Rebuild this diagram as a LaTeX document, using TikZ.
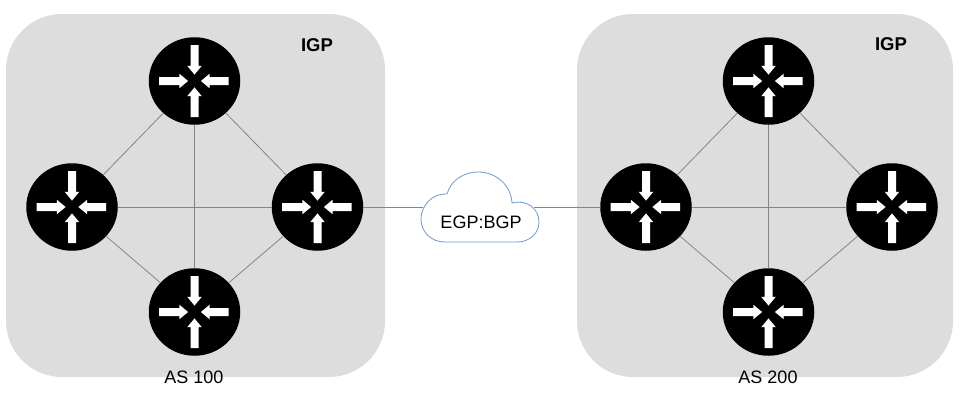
\documentclass[tikz,border=0pt]{standalone}
\usepackage{fontspec}
\setmainfont{Liberation Sans}
\usetikzlibrary{shapes.geometric}
\definecolor{asgrey}{HTML}{DDDDDD}
\definecolor{linkgrey}{HTML}{858585}
\definecolor{cloudblue}{HTML}{6C9BD2}
\tikzset{
  asbox/.style={fill=asgrey,draw=none,rounded corners=56pt},
  router/.style={ellipse,fill=black,draw=none,minimum width=91.5pt,minimum height=87.5pt,inner sep=0pt,outer sep=0pt},
  link/.style={draw=linkgrey,line width=0.8pt},
  label/.style={inner sep=0pt,font=\fontsize{18}{20}\selectfont},
  igp/.style={inner sep=0pt,font=\fontsize{18.5}{20}\selectfont\bfseries}
}
\newcommand{\inarrow}[3]{%
  \fill[white,shift={(#1.center)},rotate=#2] (-#3,-4) -- (-15.2,-4) -- (-15.2,-7.3) -- (-6.4,0) -- (-15.2,7.3) -- (-15.2,4) -- (-#3,4) -- cycle;}
\begin{document}
\begin{tikzpicture}[x=1pt,y=-1pt]
\useasboundingbox (0,0) rectangle (960,407);
\fill[white] (0,0) rectangle (960,407);
\path[asbox] (6,14) rectangle (385,377);
\path[asbox] (577,14) rectangle (953,377);

\node[router] (t1) at (194.5,81) {};
\node[router] (l1) at (72,207) {};
\node[router] (r1) at (317.5,207) {};
\node[router] (b1) at (194.5,312) {};
\node[router] (t2) at (768.5,81) {};
\node[router] (l2) at (646,207) {};
\node[router] (r2) at (892,207) {};
\node[router] (b2) at (768.5,312) {};

\foreach \rt in {t1,l1,r1,b1,t2,l2,r2,b2}{
  \inarrow{\rt}{0}{35.5}
  \inarrow{\rt}{90}{36}
  \inarrow{\rt}{180}{34}
  \inarrow{\rt}{270}{36}
}

\foreach \s in {1,2}{
  \draw[link] (t\s) -- (l\s);
  \draw[link] (t\s) -- (r\s);
  \draw[link] (b\s) -- (l\s);
  \draw[link] (b\s) -- (r\s);
  \draw[link] (t\s) -- (b\s);
  \draw[link] (l\s) -- (r\s);
}

\coordinate (cloudL) at (423,207);
\coordinate (cloudR) at (534,207);
\draw[link] (r1) -- (cloudL);
\draw[link] (cloudR) -- (l2);

\draw[cloudblue,fill=white,line width=0.8pt]
  (445,242)
  .. controls (431,242) and (421,232) .. (421,219)
  .. controls (421,205) and (433,193) .. (447,194)
  .. controls (451,180) and (464,172) .. (478,172)
  .. controls (496,172) and (511,185) .. (512,203)
  .. controls (527,199) and (539,209) .. (539,222)
  .. controls (539,233) and (530,242) .. (517,242)
  -- cycle;

\node[label] (cloudtext) at (481,222) {EGP:BGP};
\node[label] (as1) at (194,377) {AS 100};
\node[label] (as2) at (768,377) {AS 200};
\node[igp] (igp1) at (317,45) {IGP};
\node[igp] (igp2) at (891,44) {IGP};
\end{tikzpicture}
\end{document}
